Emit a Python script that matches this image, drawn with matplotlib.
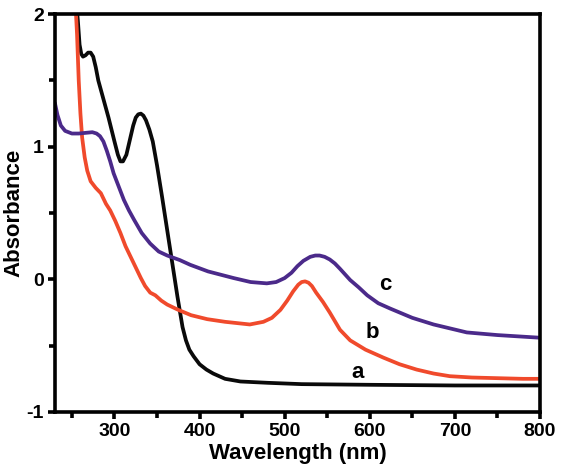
import matplotlib.pyplot as plt

plt.rcParams["font.family"] = ["Liberation Sans", "DejaVu Sans"]
plt.rcParams["font.weight"] = "bold"
plt.rcParams["axes.unicode_minus"] = False

# curve a (black)
wl_a = [255, 257, 259, 261, 263, 266, 269, 272, 275, 278, 281, 287, 293, 300,
        304, 307, 310, 314, 318, 322, 325, 328, 331, 334, 337, 341, 345, 350,
        356, 362, 368, 374, 380, 384, 388, 393, 400, 408, 416, 430, 448, 480,
        520, 600, 700, 800]
abs_a = [2.1, 1.95, 1.77, 1.70, 1.68, 1.69, 1.71, 1.71, 1.68, 1.60, 1.50, 1.36,
         1.22, 1.04, 0.94, 0.89, 0.89, 0.94, 1.05, 1.16, 1.22, 1.245, 1.25, 1.235,
         1.20, 1.13, 1.04, 0.86, 0.62, 0.37, 0.12, -0.13, -0.36, -0.46, -0.53,
         -0.58, -0.64, -0.68, -0.71, -0.75, -0.77, -0.78, -0.79, -0.795, -0.80,
         -0.80]

# curve b (red)
wl_b = [254, 256, 258, 260, 262, 265, 268, 272, 278, 284, 290, 295, 301, 307,
        313, 319, 325, 331, 336, 342, 348, 355, 362, 375, 390, 409, 430, 459,
        475, 485, 495, 503, 510, 516, 520, 524, 528, 532, 537, 545, 553, 565,
        577, 595, 616, 635, 655, 675, 694, 720, 750, 780, 800]
abs_b = [2.1, 1.85, 1.50, 1.25, 1.07, 0.92, 0.82, 0.74, 0.69, 0.65, 0.57, 0.52,
         0.44, 0.35, 0.25, 0.17, 0.09, 0.01, -0.05, -0.10, -0.12, -0.16, -0.19,
         -0.23, -0.27, -0.30, -0.32, -0.34, -0.32, -0.29, -0.23, -0.16, -0.09,
         -0.04, -0.02, -0.015, -0.025, -0.05, -0.10, -0.17, -0.25, -0.38, -0.46,
         -0.53, -0.59, -0.64, -0.68, -0.71, -0.73, -0.74, -0.745, -0.75, -0.75]

# curve c (purple)
wl_c = [230, 233, 237, 242, 250, 258, 266, 274, 279, 283, 287, 291, 295, 299,
        305, 311, 317, 323, 332, 342, 352, 362, 377, 389, 410, 440, 460, 479,
        490, 500, 508, 515, 522, 530, 536, 541, 547, 553, 559, 565, 577, 587,
        597, 610, 624, 650, 675, 714, 750, 800]
abs_c = [1.33, 1.24, 1.16, 1.12, 1.10, 1.10, 1.105, 1.11, 1.10, 1.08, 1.04, 0.97,
         0.89, 0.80, 0.70, 0.60, 0.52, 0.45, 0.35, 0.27, 0.21, 0.18, 0.145, 0.11,
         0.06, 0.01, -0.02, -0.03, -0.02, 0.01, 0.05, 0.10, 0.14, 0.17, 0.18,
         0.18, 0.17, 0.15, 0.12, 0.08, -0.005, -0.06, -0.12, -0.18, -0.22, -0.29,
         -0.34, -0.40, -0.42, -0.44]

labels = ["a", "b", "c"]
label_pos = [(586, -0.70), (603, -0.40), (618, -0.04)]

fig = plt.figure(figsize=(5.66, 4.73), dpi=100)
ax = fig.add_axes([0.097, 0.129, 0.857, 0.841])

for wl, ab, col in [(wl_a, abs_a, "#0a0a0a"), (wl_b, abs_b, "#f04a2c"),
                    (wl_c, abs_c, "#4b2a8a")]:
    ax.plot(wl, ab, color=col, lw=2.7, solid_joinstyle="round",
            solid_capstyle="round")

for lab, (lx, ly) in zip(labels, label_pos):
    ax.text(lx, ly, lab, fontsize=16, fontweight="bold", ha="center", va="center")

ax.set_xlim(230, 800)
ax.set_ylim(-1, 2)
ax.set_xticks([300, 400, 500, 600, 700, 800])
ax.set_xticks([250, 350, 450, 550, 650, 750], minor=True)
ax.set_yticks([-1, 0, 1, 2])
ax.set_yticks([-0.5, 0.5, 1.5], minor=True)

ax.set_xlabel("Wavelength (nm)", fontsize=16, fontweight="bold", labelpad=2)
ax.set_ylabel("Absorbance", fontsize=16, fontweight="bold", va="center")
ax.yaxis.set_label_coords(-0.084, 0.5)

for s in ax.spines.values():
    s.set_linewidth(2.6)
ax.tick_params(which="major", direction="out", length=5, width=2.6,
               labelsize=14, pad=3)
ax.tick_params(which="minor", direction="out", length=4, width=2.6)

fig.savefig("out.png", dpi=100)
